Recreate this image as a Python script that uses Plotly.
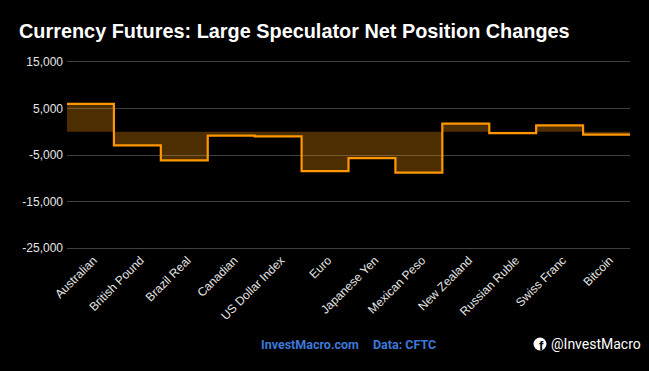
import plotly.graph_objects as go

categories = ["Australian", "British Pound", "Brazil Real", "Canadian", "US Dollar Index", "Euro",
              "Japanese Yen", "Mexican Peso", "New Zealand", "Russian Ruble", "Swiss Franc", "Bitcoin"]
net_change = [5960, -2940, -6160, -860, -1000, -8450, -5660, -8800, 1720, -300, 1350, -640]
y_ticks = [15000, 5000, -5000, -15000, -25000]
title = "Currency Futures: Large Speculator Net Position Changes"

W, H = 649, 371
L, R = 67, 630
Y_TOP, Y_BOT = 61.5, 248  # pixel rows of the first and last gridline
px_per_unit = (Y_BOT - Y_TOP) / (y_ticks[0] - y_ticks[-1])
PAD = 400  # axis padding so the end gridlines are still drawn
T, B = Y_TOP - PAD * px_per_unit, Y_BOT + PAD * px_per_unit


def px(x):
    return (x - L) / (R - L)


def py(y):
    return (B - y) / (B - T)


idx = list(range(len(categories)))
xs = [idx[0] - 0.5] + idx + [idx[-1] + 0.5]
ys = [net_change[0]] + net_change + [net_change[-1]]

fig = go.Figure(go.Scatter(
    x=xs, y=ys, mode="lines", line=dict(color="#ff9800", width=2.2, shape="hvh"),
    fill="tozeroy", fillcolor="rgba(255,152,0,0.3)", hoverinfo="skip", showlegend=False,
))

fig.update_layout(
    width=W, height=H, autosize=False,
    paper_bgcolor="#000000", plot_bgcolor="#000000",
    margin=dict(l=L, r=W - R, t=T, b=H - B, pad=0),
    font=dict(family="Liberation Sans, Arial, sans-serif", color="#e6e6e6", size=12),
    title=dict(text="<b>" + title + "</b>", x=19 / W, xanchor="left", y=1 - 31 / H, yanchor="middle",
               font=dict(size=19.87, color="#ffffff", family="Liberation Sans, Arial, sans-serif")),
    xaxis=dict(range=[-0.5, len(categories) - 0.5], tickmode="array", tickvals=idx, ticktext=categories,
               tickangle=-45, showgrid=False, zeroline=False, showline=False, ticks="",
               ticklabelshift=3, tickfont=dict(size=12, color="#e6e6e6")),
    yaxis=dict(range=[y_ticks[-1] - PAD, y_ticks[0] + PAD], tickmode="array", tickvals=y_ticks,
               ticktext=[f"{v:,}" for v in y_ticks], gridcolor="#404040", gridwidth=1, zeroline=False,
               showline=False, ticks="", ticklabelstandoff=3, tickfont=dict(size=12, color="#e6e6e6")),
    annotations=[
        dict(text="<b>InvestMacro.com</b>", xref="paper", yref="paper", x=px(310), y=py(344),
             showarrow=False, font=dict(size=12.5, color="#3d78d8", family="Roboto, sans-serif"),
             xanchor="center", yanchor="middle"),
        dict(text="<b>Data: CFTC</b>", xref="paper", yref="paper", x=px(404.5), y=py(344),
             showarrow=False, font=dict(size=12.5, color="#3d78d8", family="Roboto, sans-serif"),
             xanchor="center", yanchor="middle"),
        dict(text="@InvestMacro", xref="paper", yref="paper", x=px(549), y=py(344),
             showarrow=False, font=dict(size=14, color="#ffffff", family="Roboto, sans-serif"),
             xanchor="left", yanchor="middle"),
        dict(text="<b>f</b>", xref="paper", yref="paper", x=px(541), y=py(345),
             showarrow=False, font=dict(size=13, color="#000000"), xanchor="center", yanchor="middle"),
    ],
    shapes=[dict(type="circle", xref="paper", yref="paper", layer="below",
                 x0=px(533.5), x1=px(546.5), y0=py(350.5), y1=py(337.5),
                 fillcolor="#ffffff", line=dict(width=0))],
)
fig.write_html("out.html", config={"displayModeBar": False},
               post_script="document.body.style.margin='0';")
